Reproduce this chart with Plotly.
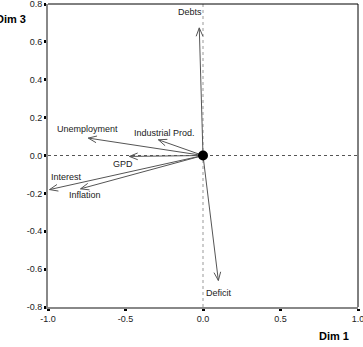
import math
import plotly.graph_objects as go

# Data
variables = ["Debts", "Deficit", "Unemployment", "Industrial Prod.", "GPD", "Interest", "Inflation"]
dim1 = [-0.024, 0.099, -0.74, -0.288, -0.475, -0.99, -0.79]
dim3 = [0.674, -0.66, 0.092, 0.083, -0.005, -0.18, -0.176]
label_x = [-0.084, 0.106, -0.742, -0.248, -0.513, -0.883, -0.763]
label_y = [0.757, -0.728, 0.138, 0.118, -0.044, -0.115, -0.21]
xticks = [-1.0, -0.5, 0.0, 0.5, 1.0]
yticks = [-0.8, -0.6, -0.4, -0.2, 0.0, 0.2, 0.4, 0.6, 0.8]

# Layout geometry
W, H = 363, 347
ml, mr, mt, mb = 48, 5, 4, 40
xr = [-1.0, 1.0]
yr = [-0.8, 0.8]
pw = W - ml - mr
ph = H - mt - mb
sx = pw / (xr[1] - xr[0])
sy = ph / (yr[1] - yr[0])

shaft_x, shaft_y, head_x, head_y = [], [], [], []
hl, ha = 9.0, math.radians(22)
for x, y in zip(dim1, dim3):
    shaft_x += [0, x, None]
    shaft_y += [0, y, None]
    ang = math.atan2(y * sy, x * sx)
    pts = []
    for s in (1, -1):
        a = ang + math.pi + s * ha
        pts.append((x + hl * math.cos(a) / sx, y + hl * math.sin(a) / sy))
    head_x += [pts[0][0], x, pts[1][0], None]
    head_y += [pts[0][1], y, pts[1][1], None]

fig = go.Figure()
fig.add_trace(go.Scatter(x=shaft_x, y=shaft_y, mode="lines",
                         line=dict(color="#555555", width=1), hoverinfo="skip"))
fig.add_trace(go.Scatter(x=head_x, y=head_y, mode="lines",
                         line=dict(color="#555555", width=1), hoverinfo="skip"))
fig.add_trace(go.Scatter(x=[0], y=[0], mode="markers",
                         marker=dict(color="black", size=10), hoverinfo="skip"))

for name, lx, ly in zip(variables, label_x, label_y):
    fig.add_annotation(x=lx, y=ly, text=name, showarrow=False,
                       font=dict(family="Liberation Sans", size=9, color="#222222"),
                       xanchor="center", yanchor="middle")

fig.add_annotation(xref="paper", yref="paper", x=-0.119, y=0.95, text="<b>Dim 3</b>",
                   showarrow=False, font=dict(family="Liberation Sans", size=11, color="black"),
                   xanchor="center", yanchor="middle")
fig.add_annotation(xref="paper", yref="paper", x=0.924, y=-0.096, text="<b>Dim 1</b>",
                   showarrow=False, font=dict(family="Liberation Sans", size=11, color="black"),
                   xanchor="center", yanchor="middle")

# dotted reference lines
fig.add_shape(type="line", xref="x", yref="paper", x0=0, x1=0, y0=0, y1=1,
              line=dict(color="#999999", width=1, dash="dot"), layer="below")
fig.add_shape(type="line", xref="paper", yref="y", x0=0, x1=1, y0=0, y1=0,
              line=dict(color="#555555", width=1, dash="dot"), layer="below")
# top and right border
fig.add_shape(type="line", xref="paper", yref="paper", x0=0, x1=1, y0=1, y1=1,
              line=dict(color="black", width=1))
fig.add_shape(type="line", xref="paper", yref="paper", x0=1, x1=1, y0=0, y1=1,
              line=dict(color="black", width=1))

axis_common = dict(showgrid=False, zeroline=False, showline=True, linecolor="#888888",
                   linewidth=2, ticks="outside", ticklen=2, tickwidth=3, tickcolor="black",
                   ticklabeloverflow="allow", automargin=False,
                   tickfont=dict(family="Liberation Sans", size=9, color="#222222"))
fig.update_xaxes(range=xr, tickvals=xticks, ticktext=[f"{v:.1f}" for v in xticks], **axis_common)
fig.update_yaxes(range=yr, tickvals=yticks, ticktext=[f"{v:.1f}" for v in yticks], **axis_common)

fig.update_layout(width=W, height=H, margin=dict(l=ml, r=mr, t=mt, b=mb),
                  plot_bgcolor="white", paper_bgcolor="white", showlegend=False)

fig.write_html("out.html")
